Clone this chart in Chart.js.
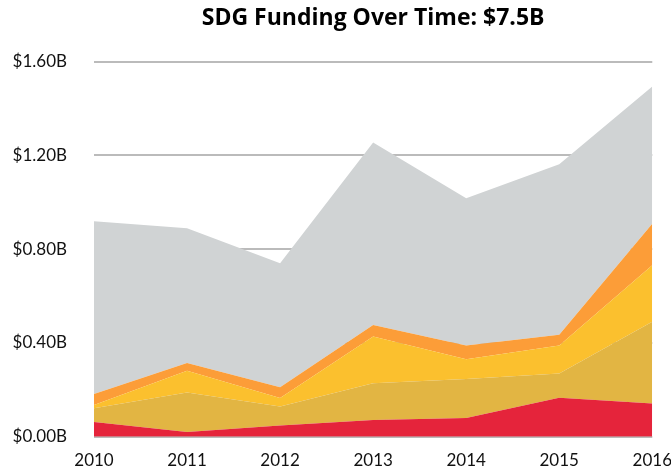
<!DOCTYPE html>
<html>
<head>
<meta charset="utf-8">
<script src="https://cdn.jsdelivr.net/npm/chart.js@4"></script>
<style>
    html, body { margin: 0; padding: 0; background: #fff; overflow: hidden; }
    #wrap { width: 686px; height: 474px; }
</style>
</head>
<body>
<div id="wrap"><canvas id="myChart"></canvas></div>
<script>
'use strict';

// funding in billions of USD (bottom layer first)
const years = ['2010', '2011', '2012', '2013', '2014', '2015', '2016'];
const red = [0.063, 0.020, 0.048, 0.072, 0.080, 0.166, 0.142];
const mustard = [0.059, 0.169, 0.081, 0.156, 0.167, 0.104, 0.349];
const yellow = [0.014, 0.093, 0.036, 0.200, 0.084, 0.119, 0.241];
const orange = [0.046, 0.033, 0.046, 0.049, 0.058, 0.046, 0.177];
const gray = [0.737, 0.574, 0.529, 0.778, 0.628, 0.727, 0.585];
const yTicks = [0, 0.4, 0.8, 1.2, 1.6];

const layer = (data, color, fill) => ({
    data: data,
    backgroundColor: color,
    borderWidth: 0,
    pointRadius: 0,
    pointHoverRadius: 0,
    tension: 0,
    fill: fill
});

// center the title over the plot area rather than the whole canvas
const titleOverPlot = {
    id: 'titleOverPlot',
    afterLayout(chart) {
        const t = chart.titleBlock;
        t.left = chart.chartArea.left;
        t.right = chart.chartArea.right;
        t.width = t.right - t.left;
    }
};

const ctx = document.getElementById('myChart').getContext('2d');

new Chart(ctx, {
    type: 'line',
    data: {
        labels: years,
        datasets: [
            layer(red, '#e5243b', 'origin'),
            layer(mustard, '#e2b543', '-1'),
            layer(yellow, '#fbc02e', '-1'),
            layer(orange, '#fc9d38', '-1'),
            layer(gray, '#d0d3d4', '-1')
        ]
    },
    plugins: [titleOverPlot],
    options: {
        responsive: true,
        maintainAspectRatio: false,
        animation: false,
        layout: { padding: 0 },
        plugins: {
            legend: { display: false },
            tooltip: { enabled: false },
            title: {
                display: true,
                text: 'SDG Funding Over Time: $7.5B',
                color: '#000',
                font: { family: 'Open Sans', size: 23, weight: 'bold' },
                padding: { top: 5, bottom: 29 }
            }
        },
        scales: {
            x: {
                afterFit: scale => { scale.height = 33; },
                grid: { display: false, drawTicks: false },
                border: { display: false },
                ticks: {
                    color: '#111',
                    padding: 14,
                    maxRotation: 0,
                    font: { family: 'Lato', size: 17 }
                }
            },
            y: {
                stacked: true,
                min: 0,
                max: 1.6,
                afterFit: scale => { scale.width = 94; },
                afterBuildTicks: scale => {
                    scale.ticks = yTicks.map(v => ({ value: v }));
                },
                grid: { color: '#bbbbbb', lineWidth: 2, drawTicks: false },
                border: { display: false },
                ticks: {
                    color: '#111',
                    padding: 27,
                    font: { family: 'Lato', size: 17 },
                    callback: v => '$' + v.toFixed(2) + 'B'
                }
            }
        }
    }
});
</script>
</body>
</html>
